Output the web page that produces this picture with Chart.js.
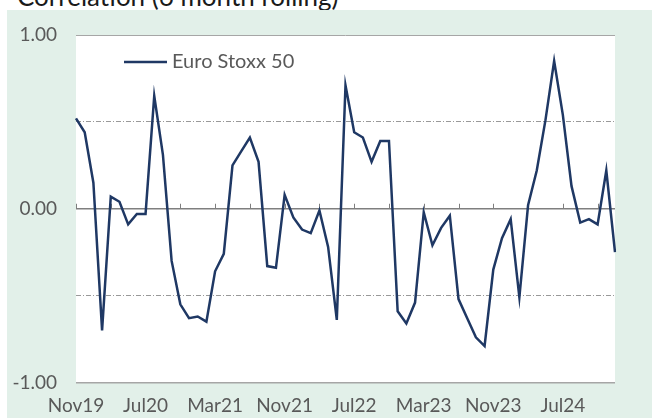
<!DOCTYPE html>
<html>
<head>
<meta charset="utf-8">
<script src="https://cdn.jsdelivr.net/npm/chart.js@4.4.1/dist/chart.umd.min.js"></script>
<style>
  html, body { margin: 0; padding: 0; background: #fff; width: 660px; height: 418px; overflow: hidden; }
  #title { position: absolute; left: 17px; top: -17px; font: 26px Lato, sans-serif; line-height: 26px; color: #1a1a1a; white-space: nowrap; }
  #panel { position: absolute; left: 7px; top: 10px; width: 645px; height: 408px; background: #e2f0e9; }
  #chart { position: absolute; left: 7px; top: 0; }
</style>
</head>
<body>
<div id="title">Correlation (6 month rolling)</div>
<div id="panel"></div>
<canvas id="chart" width="645" height="418"></canvas>
<script>
// ==================== Euro Stoxx 50 rolling correlation ====================

const months = [
  'Nov19', 'Dec19',
  'Jan20', 'Feb20', 'Mar20', 'Apr20', 'May20', 'Jun20', 'Jul20', 'Aug20', 'Sep20', 'Oct20', 'Nov20', 'Dec20',
  'Jan21', 'Feb21', 'Mar21', 'Apr21', 'May21', 'Jun21', 'Jul21', 'Aug21', 'Sep21', 'Oct21', 'Nov21', 'Dec21',
  'Jan22', 'Feb22', 'Mar22', 'Apr22', 'May22', 'Jun22', 'Jul22', 'Aug22', 'Sep22', 'Oct22', 'Nov22', 'Dec22',
  'Jan23', 'Feb23', 'Mar23', 'Apr23', 'May23', 'Jun23', 'Jul23', 'Aug23', 'Sep23', 'Oct23', 'Nov23', 'Dec23',
  'Jan24', 'Feb24', 'Mar24', 'Apr24', 'May24', 'Jun24', 'Jul24', 'Aug24', 'Sep24', 'Oct24', 'Nov24', 'Dec24',
  'Jan25'
];

const euroStoxx50 = [
  0.52, 0.44, 0.15, -0.70, 0.07, 0.04, -0.09, -0.03, -0.03, 0.65, 0.31, -0.30,
  -0.55, -0.63, -0.62, -0.65, -0.36, -0.26, 0.25, 0.33, 0.41, 0.27, -0.33, -0.34,
  0.08, -0.05, -0.12, -0.14, -0.01, -0.22, -0.64, 0.71, 0.44, 0.41, 0.27, 0.39,
  0.39, -0.59, -0.66, -0.54, -0.02, -0.21, -0.11, -0.04, -0.52, -0.63, -0.74, -0.79,
  -0.35, -0.17, -0.06, -0.51, 0.02, 0.22, 0.51, 0.85, 0.54, 0.13, -0.08, -0.06,
  -0.09, 0.22, -0.25
];

const yTicks = [-1, 0, 1];
const bandLines = [-0.5, 0.5];
const labelEvery = 8;
const tickEvery = 4;

const navy = '#1f3864';
const greyText = '#595959';

// white plot area on the green panel
const plotBg = {
  id: 'plotBg',
  beforeDraw(chart) {
    const { ctx, chartArea: a } = chart;
    ctx.save();
    ctx.fillStyle = '#ffffff';
    ctx.fillRect(a.left, a.top, a.right - a.left, a.bottom - a.top);
    ctx.restore();
  }
};

// small tick marks standing on the zero line
const zeroTicks = {
  id: 'zeroTicks',
  beforeDatasetsDraw(chart) {
    const { ctx, scales: { x, y } } = chart;
    const y0 = y.getPixelForValue(0);
    ctx.save();
    ctx.strokeStyle = '#7f7f7f';
    ctx.lineWidth = 1;
    for (let i = 0; i < months.length; i += tickEvery) {
      const px = Math.round(x.getPixelForValue(i)) + 0.5;
      ctx.beginPath();
      ctx.moveTo(px, y0);
      ctx.lineTo(px, y0 - 5);
      ctx.stroke();
    }
    ctx.restore();
  }
};

// legend sitting inside the plot, top left
const insideLegend = {
  id: 'insideLegend',
  afterDatasetsDraw(chart) {
    const { ctx, chartArea } = chart;
    const ds = chart.data.datasets[0];
    const ly = chartArea.top + 27;
    const lx = chartArea.left + 48;
    ctx.save();
    ctx.strokeStyle = ds.borderColor;
    ctx.lineWidth = ds.borderWidth;
    ctx.beginPath();
    ctx.moveTo(lx, ly);
    ctx.lineTo(lx + 43, ly);
    ctx.stroke();
    ctx.fillStyle = greyText;
    ctx.font = '20px Lato, sans-serif';
    ctx.textBaseline = 'middle';
    ctx.fillText(ds.label, lx + 48, ly);
    ctx.restore();
  }
};

new Chart(document.getElementById('chart'), {
  type: 'line',
  data: {
    labels: months,
    datasets: [{
      label: 'Euro Stoxx 50',
      data: euroStoxx50,
      borderColor: navy,
      backgroundColor: navy,
      borderWidth: 2.5,
      pointRadius: 0,
      tension: 0
    }]
  },
  options: {
    responsive: false,
    animation: false,
    layout: { padding: { top: 35, right: 37, left: 0, bottom: 0 } },
    plugins: { legend: { display: false }, tooltip: { enabled: false } },
    scales: {
      x: {
        type: 'category',
        offset: false,
        grid: { display: false },
        border: { display: false },
        ticks: {
          autoSkip: false,
          maxRotation: 0,
          padding: 4,
          color: greyText,
          font: { family: 'Lato', size: 19 },
          callback: function (v, i) { return i % labelEvery === 0 ? this.getLabelForValue(v) : null; }
        },
        afterFit: s => { s.height = 35.5; }
      },
      y: {
        min: -1, max: 1,
        afterBuildTicks: s => { s.ticks = yTicks.map(v => ({ value: v })); },
        grid: {
          drawTicks: false,
          color: c => c.tick.value === 0 ? '#7f7f7f' : '#a6a6a6',
          lineWidth: c => c.tick.value === 0 ? 1.5 : (c.tick.value < 0 ? 1.5 : 1)
        },
        border: { display: false },
        ticks: {
          padding: 19,
          color: greyText,
          font: { family: 'Lato', size: 19 },
          callback: v => v.toFixed(2)
        },
        afterFit: s => { s.width = 69; }
      },
      y2: {
        position: 'left',
        min: -1, max: 1,
        afterBuildTicks: s => { s.ticks = bandLines.map(v => ({ value: v })); },
        grid: { drawTicks: false, color: '#999999', lineWidth: 1 },
        border: { display: false, dash: [5, 2, 1, 2] },
        ticks: { display: false },
        afterFit: s => { s.width = 0; }
      }
    }
  },
  plugins: [plotBg, zeroTicks, insideLegend]
});
</script>
</body>
</html>
